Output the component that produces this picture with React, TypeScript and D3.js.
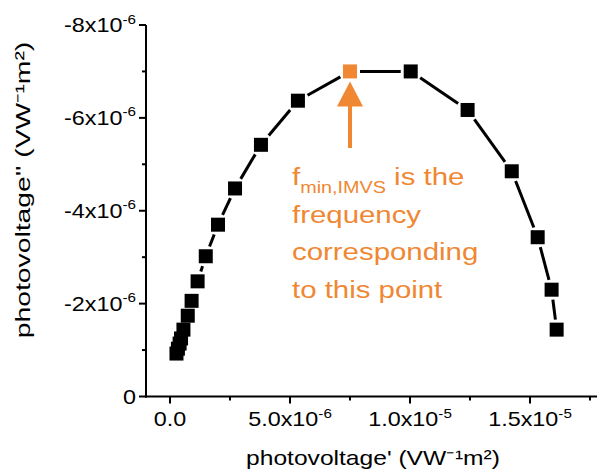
import React from "react";
import * as d3 from "d3";

const xValues = [0.27e-6, 0.33e-6, 0.40e-6, 0.46e-6, 0.56e-6, 0.74e-6, 0.90e-6, 1.15e-6, 1.49e-6, 2.0e-6, 2.71e-6, 3.79e-6, 5.33e-6, 7.5e-6, 10.03e-6, 12.4e-6, 14.24e-6, 15.32e-6, 15.9e-6, 16.11e-6];
const yValues = [-0.925e-6, -1.03e-6, -1.14e-6, -1.25e-6, -1.44e-6, -1.74e-6, -2.06e-6, -2.48e-6, -3.02e-6, -3.7e-6, -4.48e-6, -5.42e-6, -6.37e-6, -7.0e-6, -7.0e-6, -6.17e-6, -4.85e-6, -3.43e-6, -2.3e-6, -1.44e-6];
const highlightIndex = 13;

const xMajorTicks = [0, 5e-6, 1e-5, 1.5e-5];
const xMajorLabels = [["0.0", ""], ["5.0x10", "-6"], ["1.0x10", "-5"], ["1.5x10", "-5"]];
const xMinorTicks = [2.5e-6, 7.5e-6, 1.25e-5, 1.75e-5];
const yMajorTicks = [0, -2e-6, -4e-6, -6e-6, -8e-6];
const yMajorLabels = [["0", ""], ["-2x10", "-6"], ["-4x10", "-6"], ["-6x10", "-6"], ["-8x10", "-6"]];
const yMinorTicks = [-1e-6, -3e-6, -5e-6, -7e-6];

const annotationLines = ["frequency", "corresponding", "to this point"];

const ORANGE = "#EF8733";
const FONT = "'Liberation Sans', Arial, sans-serif";
const SX = 1.17;

export default function App() {
  const W = 597, H = 470;
  const x = d3.scaleLinear().domain([-1e-6, 1.8e-5]).range([146, 602]);
  const y = d3.scaleLinear().domain([0, -8e-6]).range([396.5, 25]);
  const axisY = 396.5;
  const axisX = 146;
  const ms = 14;
  const half = ms / 2;
  const gap = 3;

  const pts = xValues.map((v, i) => [x(v), y(yValues[i])]);
  const segs: [number, number, number, number][] = [];
  for (let i = 0; i < pts.length - 1; i++) {
    const [x0, y0] = pts[i];
    const [x1, y1] = pts[i + 1];
    const dx = x1 - x0, dy = y1 - y0;
    const len = Math.hypot(dx, dy);
    if (len === 0) continue;
    const ux = dx / len, uy = dy / len;
    const off = half / Math.max(Math.abs(ux), Math.abs(uy)) + gap;
    if (len <= 2 * off + 1) continue;
    segs.push([x0 + ux * off, y0 + uy * off, x1 - ux * off, y1 - uy * off]);
  }

  const hx = pts[highlightIndex][0];
  const tipY = pts[highlightIndex][1] + 10;

  return (
    <svg width={W} height={H} style={{ position: "absolute", left: 0, top: 0, background: "#fff" }} fontFamily={FONT}>
      <rect width={W} height={H} fill="#fff" />
      {/* axes */}
      <line x1={axisX} x2={axisX} y1={y(-8e-6)} y2={axisY + 1} stroke="#000" strokeWidth={2} />
      <line x1={axisX - 1} x2={W} y1={axisY} y2={axisY} stroke="#000" strokeWidth={2} />
      {yMajorTicks.map((t) => (
        <line key={"ym" + t} x1={axisX - 7} x2={axisX} y1={y(t)} y2={y(t)} stroke="#000" strokeWidth={2} />
      ))}
      {yMinorTicks.map((t) => (
        <line key={"yn" + t} x1={axisX - 4} x2={axisX} y1={y(t)} y2={y(t)} stroke="#000" strokeWidth={2} />
      ))}
      {xMajorTicks.map((t) => (
        <line key={"xm" + t} x1={x(t)} x2={x(t)} y1={axisY} y2={axisY + 7} stroke="#000" strokeWidth={2} />
      ))}
      {xMinorTicks.map((t) => (
        <line key={"xn" + t} x1={x(t)} x2={x(t)} y1={axisY} y2={axisY + 4} stroke="#000" strokeWidth={2} />
      ))}
      {yMajorTicks.map((t, i) => (
        <text key={"yl" + t} transform={`translate(${axisX - 10},${y(t) + 7}) scale(${SX},1)`} textAnchor="end" fontSize={20} fill="#000">
          {yMajorLabels[i][0]}
          {yMajorLabels[i][1] && (
            <tspan fontSize={13} dy={-8.5}>{yMajorLabels[i][1]}</tspan>
          )}
        </text>
      ))}
      {xMajorTicks.map((t, i) => (
        <text key={"xl" + t} transform={`translate(${x(t)},${426}) scale(${SX},1)`} textAnchor="middle" fontSize={20} fill="#000">
          {xMajorLabels[i][0]}
          {xMajorLabels[i][1] && (
            <tspan fontSize={13} dy={-8.5}>{xMajorLabels[i][1]}</tspan>
          )}
        </text>
      ))}
      {/* axis titles */}
      <text transform={`translate(373,465) scale(1.2,1)`} textAnchor="middle" fontSize={20.5} fill="#000">
        photovoltage' (VW⁻¹m²)
      </text>
      <text transform={`translate(30,190) rotate(-90) scale(1.38,1)`} textAnchor="middle" fontSize={20.5} fill="#000">
        photovoltage'' (VW⁻¹m²)
      </text>
      {/* line */}
      {segs.map((s, i) => (
        <line key={"s" + i} x1={s[0]} y1={s[1]} x2={s[2]} y2={s[3]} stroke="#000" strokeWidth={3} />
      ))}
      {/* markers */}
      {pts.map((p, i) => (
        <rect key={"p" + i} x={p[0] - half} y={p[1] - half} width={ms} height={ms} fill={i === highlightIndex ? ORANGE : "#000"} />
      ))}
      {/* arrow */}
      <path d={`M${hx},${tipY} L${hx + 13},${tipY + 25} L${hx - 13},${tipY + 25} Z`} fill={ORANGE} />
      <line x1={hx} x2={hx} y1={tipY + 24} y2={148} stroke={ORANGE} strokeWidth={4} />
      {/* annotation */}
      <text transform={`translate(292,185) scale(1.2,1)`} fontSize={24.5} fill={ORANGE}>
        f<tspan fontSize={16.5} dy={8}>min,IMVS</tspan>
        <tspan dy={-8}> is the</tspan>
      </text>
      {annotationLines.map((l, i) => (
        <text key={"a" + i} transform={`translate(292,${222.5 + i * 37.5}) scale(1.2,1)`} fontSize={24.5} fill={ORANGE}>
          {l}
        </text>
      ))}
    </svg>
  );
}
